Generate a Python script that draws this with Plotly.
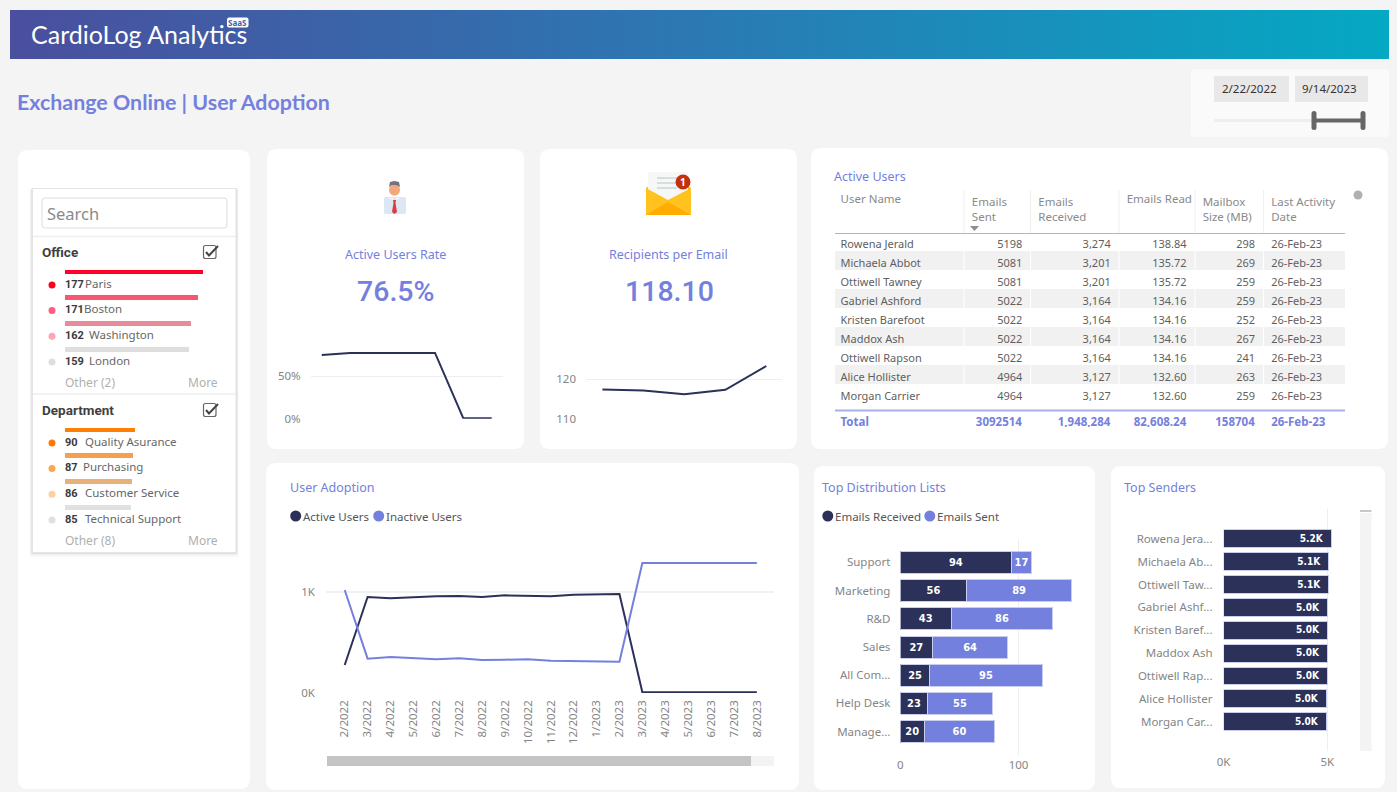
import plotly.graph_objects as go

W, H = 1397, 792
BLUE = "#7480dd"
NAVY = "#2b3158"
GRID = "#eeeeee"
TXT = "#6f6f6f"
FONT = "Noto Sans"
NARROW = "DejaVu Sans Condensed"
HEAD = "Roboto"
DIN = "Roboto Medium, Roboto"

# ---------- data ----------
office_names = ["Paris", "Boston", "Washington", "London"]
office_vals = [177, 171, 162, 159]
office_bar_col = ["#ff0028", "#f9566f", "#e88c9b", "#dedede"]
office_dot_col = ["#ff0022", "#ff5f7a", "#ffa4b4", "#dedede"]
dept_names = ["Quality Asurance", "Purchasing", "Customer Service", "Technical Support"]
dept_vals = [90, 87, 86, 85]
dept_bar_col = ["#ff7f00", "#f5a04f", "#e8b07a", "#e0e0e0"]
dept_dot_col = ["#ff7a00", "#ffa550", "#ffcfa0", "#e0e0e0"]

rate_vals = [75.2, 77.6, 77.6, 77.6, 77.6, 0.4, 0.4]
recip_vals = [117.4, 117.1, 116.2, 117.3, 123.25]

months = ["2/2022", "3/2022", "4/2022", "5/2022", "6/2022", "7/2022", "8/2022", "9/2022", "10/2022",
          "11/2022", "12/2022", "1/2023", "2/2023", "3/2023", "4/2023", "5/2023", "6/2023", "7/2023", "8/2023"]
active_users = [277, 950, 937, 950, 957, 960, 950, 967, 960, 957, 973, 977, 980, 7, 7, 7, 7, 7, 7]
inactive_users = [1020, 340, 356, 343, 333, 343, 327, 330, 333, 320, 317, 320, 310, 1287, 1287, 1287, 1287, 1287, 1287]

dl_names = ["Support", "Marketing", "R&D", "Sales", "All Com...", "Help Desk", "Manage..."]
dl_received = [94, 56, 43, 27, 25, 23, 20]
dl_sent = [17, 89, 86, 64, 95, 55, 60]

users = ["Rowena Jerald", "Michaela Abbot", "Ottiwell Tawney", "Gabriel Ashford", "Kristen Barefoot",
         "Maddox Ash", "Ottiwell Rapson", "Alice Hollister", "Morgan Carrier"]
sender_names = ["Rowena Jera...", "Michaela Ab...", "Ottiwell Taw...", "Gabriel Ashf...", "Kristen Baref...",
                "Maddox Ash", "Ottiwell Rap...", "Alice Hollister", "Morgan Car..."]
emails_sent = [5198, 5081, 5081, 5022, 5022, 5022, 5022, 4964, 4964]
emails_received = ["3,274", "3,201", "3,201", "3,164", "3,164", "3,164", "3,164", "3,127", "3,127"]
emails_read = ["138.84", "135.72", "135.72", "134.16", "134.16", "134.16", "134.16", "132.60", "132.60"]
mailbox = [298, 269, 259, 259, 252, 267, 241, 263, 259]
last_activity = ["26-Feb-23"] * 9
totals = ["Total", "3092514", "1,948,284", "82,608.24", "158704", "26-Feb-23"]
headers = ["User Name", "Emails<br>Sent", "Emails<br>Received", "Emails\u00a0Read", "Mailbox<br>Size\u00a0(MB)", "Last\u00a0Activity<br>Date"]


# ---------- pixel helpers ----------
def X(p):
    return p / W


def Y(p):
    return 1 - p / H


shapes, annots = [], []


def rrect(x0, y0, x1, y1, r=10, fill="white", line=None, lw=1, layer="below"):
    k = r
    d = (f"M{X(x0+k)},{Y(y0)} L{X(x1-k)},{Y(y0)} Q{X(x1)},{Y(y0)} {X(x1)},{Y(y0+k)} "
         f"L{X(x1)},{Y(y1-k)} Q{X(x1)},{Y(y1)} {X(x1-k)},{Y(y1)} "
         f"L{X(x0+k)},{Y(y1)} Q{X(x0)},{Y(y1)} {X(x0)},{Y(y1-k)} "
         f"L{X(x0)},{Y(y0+k)} Q{X(x0)},{Y(y0)} {X(x0+k)},{Y(y0)} Z")
    shapes.append(dict(type="path", xref="paper", yref="paper", path=d, fillcolor=fill, layer=layer,
                       line=dict(color=line or "rgba(0,0,0,0)", width=lw if line else 0)))


def poly(pts, fill=None, line=None, lw=1, layer="above"):
    d = "M" + " L".join(f"{X(a)},{Y(b)}" for a, b in pts)
    if fill:
        d += " Z"
    shapes.append(dict(type="path", xref="paper", yref="paper", path=d, layer=layer,
                       fillcolor=fill or "rgba(0,0,0,0)",
                       line=dict(color=line or "rgba(0,0,0,0)", width=lw if line else 0)))


def circle(cx, cy, r, fill, layer="above"):
    shapes.append(dict(type="circle", xref="paper", yref="paper", x0=X(cx - r), x1=X(cx + r), y0=Y(cy + r), y1=Y(cy - r),
                       fillcolor=fill, line=dict(width=0), layer=layer))


def text(x, y, s, size=12, color=TXT, anchor="left", family=FONT):
    annots.append(dict(xref="paper", yref="paper", x=X(x), y=Y(y), text=s, showarrow=False, xanchor=anchor,
                       yanchor="middle", align=anchor, font=dict(size=size, color=color, family=family),
                       borderpad=0, borderwidth=0))


# ---------- cards ----------
for box in [(18, 150, 250, 789), (267, 149, 524, 449), (540, 149, 797, 449), (811, 148, 1388, 449),
            (266, 463, 799, 790), (814, 466, 1095, 790), (1111, 466, 1385, 788)]:
    rrect(*box)
rrect(1191, 69, 1389, 137, r=3, fill="#fafafa")

fig = go.Figure()

# ---------- banner ----------
fig.add_trace(go.Scatter(x=[0, 1, 1, 0, 0], y=[0, 0, 1, 1, 0], mode="lines", fill="toself", line=dict(width=0),
                         fillgradient=dict(type="horizontal", colorscale=[[0, "#4a4f9e"], [0.5, "#2b79b3"], [1, "#04a9c4"]]),
                         xaxis="x", yaxis="y", hoverinfo="skip", showlegend=False))
text(31, 34, "CardioLog Analytics", 25, "white", family="Lato")
rrect(227, 17.5, 248.5, 27.5, r=2, fill="white", layer="above")
text(237.7, 22.8, "<b>SaaS</b>", 8, "#3f62a8", "center", "Noto Sans")
text(17, 102, "<b>Exchange Online | User Adoption</b>", 21.4, BLUE, family="Lato")

# ---------- date slicer ----------
rrect(1214, 76, 1289, 102, r=0, fill="#e8e8e8")
rrect(1295, 76, 1368, 102, r=0, fill="#e8e8e8")
text(1249, 89, "2/22/2022", 11.5, "#333", "center")
text(1329, 89, "9/14/2023", 11.5, "#333", "center")
rrect(1214, 119, 1314, 122, r=1, fill="#eeeeee")
rrect(1314, 118.5, 1363, 122.5, r=0, fill="#666666")
rrect(1311.5, 111, 1316.5, 130, r=2.5, fill="#666666")
rrect(1360.5, 111, 1365.5, 130, r=2.5, fill="#666666")

# ---------- filter panel ----------
for off, col in [(5, "rgba(0,0,0,0.02)"), (3, "rgba(0,0,0,0.04)"), (1.5, "rgba(0,0,0,0.07)")]:
    rrect(32 - off / 2, 188, 236.5 + off / 2, 552.5 + off, r=2, fill=col)
rrect(32.5, 188.5, 236, 552.5, r=1, fill="white", line="#e4e4e4")
rrect(42, 198, 227, 228, r=3, fill="white", line="#dddddd")
text(47, 213.5, "Search", 16.5, "#8a8a8a")
for yy in (236.5, 394):
    shapes.append(dict(type="line", xref="paper", yref="paper", x0=X(33), x1=X(236), y0=Y(yy), y1=Y(yy),
                       line=dict(color="#eeeeee", width=1.5), layer="below"))
for head, yy in (("Office", 252), ("Department", 410)):
    text(42, yy, f"<b>{head}</b>", 13.5, "#3f3f3f", family=HEAD)
    rrect(203.5, yy - 6.5, 216, yy + 6.5, r=2, fill="white", line="#666666", lw=1.2, layer="above")
    poly([(206, yy), (209, yy + 3.5), (218, yy - 6)], line="#444444", lw=2)

SL_X0 = 65
SL_K = 0.78
for xa, ya, names, vals, bcol, dcol, top, nameoffs, other in (
    ("x2", "y2", office_names, office_vals, office_bar_col, office_dot_col, 259.2, [85, 84, 89, 89], "Other (2)"),
    ("x3", "y3", dept_names, dept_vals, dept_bar_col, dept_dot_col, 417.2, [85, 83, 85, 85], "Other (8)"),
):
    idx = list(range(len(names)))
    fig.add_trace(go.Bar(y=idx, x=vals, orientation="h", width=0.19, marker=dict(color=bcol, line=dict(width=0)),
                         xaxis=xa, yaxis=ya, hoverinfo="skip", showlegend=False))
    fig.add_trace(go.Scatter(y=[i + 0.5 for i in idx], x=[(52 - SL_X0) / SL_K] * 4, mode="markers", cliponaxis=False,
                             marker=dict(size=7, color=dcol), xaxis=xa, yaxis=ya, hoverinfo="skip", showlegend=False))
    for i in idx:
        cy = top + 12.85 + 25.7 * (i + 0.47)
        text(SL_X0, cy, f"<b>{vals[i]}</b>", 11, "#3a3a3a", family=HEAD)
        text(nameoffs[i], cy - 1, names[i], 11.5, "#666666")
    text(SL_X0, top + 123, other, 12, "#b0b0b0")
    text(218, top + 123, "More", 12, "#b0b0b0", "right")

# ---------- icons ----------
rrect(384, 197, 406, 214, r=2, fill="#dce6f4", layer="above")
circle(394.5, 190, 5.5, "#f2a77c")
poly([(389, 187), (390, 182), (394.5, 181), (399, 182), (400, 187), (396, 185), (392, 185)], fill="#6f7480")
poly([(393, 200), (396, 200), (395.5, 203), (397, 212), (394.5, 214), (392, 212), (393.5, 203)], fill="#e03a3a")
poly([(388, 198), (393, 198), (393, 200)], fill="#f4f7fb")
poly([(401, 198), (396, 198), (396, 200)], fill="#f4f7fb")

poly([(646, 188), (668, 172), (691, 188), (691, 215), (646, 215)], fill="#fdb913")
rrect(648, 172, 688, 205, r=1, fill="#f6f8f8", layer="above")
for yy in (178, 183, 188):
    poly([(657, yy), (677, yy)], line="#b7c4c4", lw=1)
poly([(646, 188), (668, 200), (691, 188), (691, 215), (646, 215)], fill="#ffc21f")
poly([(646, 215), (668, 202), (691, 215)], fill="#ffab00")
circle(683, 182, 7.5, "#c4300c")
text(683, 182, "<b>1</b>", 10, "white", "center")

# ---------- KPI text ----------
text(395, 254.5, "Active Users Rate", 12.5, BLUE, "center")
text(668.5, 254.5, "Recipients per Email", 12.5, BLUE, "center")
text(395, 291, "76.5%", 28.5, BLUE, "center", DIN)
text(669, 291, "118.10", 28.5, BLUE, "center", DIN)

# ---------- card titles ----------
text(834, 176, "Active Users", 12.5, BLUE)
text(290, 487, "User Adoption", 12.5, BLUE)
text(822, 487, "Top Distribution Lists", 12.5, BLUE)
text(1124, 487, "Top Senders", 12.5, BLUE)

# ---------- sparklines ----------
fig.add_trace(go.Scatter(x=list(range(len(rate_vals))), y=rate_vals, mode="lines", name="Active Users Rate",
                         line=dict(color=NAVY, width=2), xaxis="x4", yaxis="y4", showlegend=False))
fig.add_trace(go.Scatter(x=list(range(len(recip_vals))), y=recip_vals, mode="lines", name="Recipients per Email",
                         line=dict(color=NAVY, width=2), xaxis="x5", yaxis="y5", showlegend=False))

# ---------- user adoption ----------
fig.add_trace(go.Scatter(x=months, y=active_users, mode="lines", name="Active Users",
                         line=dict(color=NAVY, width=2), xaxis="x6", yaxis="y6", showlegend=False))
fig.add_trace(go.Scatter(x=months, y=inactive_users, mode="lines", name="Inactive Users",
                         line=dict(color=BLUE, width=2), xaxis="x6", yaxis="y6", showlegend=False))
circle(295.7, 516, 5.5, NAVY)
text(303, 516.5, "Active Users", 11.5, "#555")
circle(378.7, 516, 5.5, BLUE)
text(386.5, 516.5, "Inactive Users", 11.5, "#555")
rrect(327, 756, 774, 766, r=0, fill="#f3f3f3")
rrect(327, 756, 751, 766, r=0, fill="#c4c4c4")

# ---------- distribution lists ----------
border = dict(color="#c9cdee", width=1)
lab_font = dict(color="white", size=11, family=NARROW)
fig.add_trace(go.Bar(y=dl_names, x=dl_received, orientation="h", name="Emails Received",
                     text=[f"<b>{v}</b>" for v in dl_received],
                     marker=dict(color=NAVY, line=border), textposition="inside", insidetextanchor="middle",
                     textangle=0, textfont=lab_font, xaxis="x7", yaxis="y7", showlegend=False))
fig.add_trace(go.Bar(y=dl_names, x=dl_sent, orientation="h", name="Emails Sent",
                     text=[f"<b>{v}</b>" for v in dl_sent],
                     marker=dict(color=BLUE, line=border), textposition="inside", insidetextanchor="middle",
                     textangle=0, textfont=lab_font, xaxis="x7", yaxis="y7", showlegend=False))
circle(827.8, 516, 5.5, NAVY)
text(835, 516.5, "Emails Received", 11.5, "#555")
circle(929.8, 516, 5.5, BLUE)
text(937, 516.5, "Emails Sent", 11.5, "#555")

# ---------- top senders ----------
fig.add_trace(go.Bar(y=sender_names, x=emails_sent, orientation="h", name="Emails Sent",
                     text=[f"<b>{v / 1000:.1f}K</b>&nbsp;&nbsp;" for v in emails_sent],
                     marker=dict(color=NAVY, line=border), textposition="inside", insidetextanchor="end",
                     textangle=0, textfont=lab_font, xaxis="x8", yaxis="y8", showlegend=False))
rrect(1360, 513, 1371.5, 751, r=0, fill="#f3f3f3")
rrect(1360, 510, 1371.5, 512, r=0, fill="#c8c8c8")

# ---------- table ----------
col_edges = [832.5, 964, 1030.5, 1119, 1195, 1263.6, 1345]
col_w = [col_edges[i + 1] - col_edges[i] for i in range(6)]
aligns = ["left", "right", "right", "right", "right", "left"]
n = len(users)
fig.add_trace(go.Table(
    domain=dict(x=[X(col_edges[0]), X(col_edges[-1])], y=[Y(408), Y(186)]),
    columnwidth=col_w,
    header=dict(values=headers, align="left", height=40, fill_color="white",
                line=dict(color="white", width=1), font=dict(size=11.5, color="#8a8a8a", family=FONT)),
    cells=dict(values=[users, emails_sent, emails_received, emails_read, mailbox, last_activity],
               align=aligns, height=19, line=dict(color="rgba(0,0,0,0)", width=0),
               fill_color=[["white" if i % 2 == 0 else "#f1f1f1" for i in range(n)]] * 6,
               font=dict(size=11, color="#5f5f5f", family=FONT)),
))
fig.add_trace(go.Table(
    domain=dict(x=[X(col_edges[0]), X(col_edges[-1])], y=[Y(427.5), Y(406)]),
    columnwidth=col_w,
    header=dict(values=[f"<b>{t}</b>" for t in totals], align=aligns, height=20, fill_color="white",
                line=dict(color="white", width=1), font=dict(size=11.5, color=BLUE, family=FONT)),
    cells=dict(values=[[] for _ in totals], height=1),
))
rrect(832, 186, 835, 408, r=0, fill="white", layer="above")
for yy, lw in ((233.5, 1), (410.5, 2)):
    shapes.append(dict(type="line", xref="paper", yref="paper", x0=X(835), x1=X(1345), y0=Y(yy), y1=Y(yy),
                       line=dict(color="#a9b0ea", width=lw), layer="above"))
for xx in col_edges[1:-1]:
    shapes.append(dict(type="line", xref="paper", yref="paper", x0=X(xx), x1=X(xx), y0=Y(190), y1=Y(233),
                       line=dict(color="#efefef", width=1), layer="above"))
    shapes.append(dict(type="line", xref="paper", yref="paper", x0=X(xx), x1=X(xx), y0=Y(234), y1=Y(406),
                       line=dict(color="white", width=1), layer="above"))
poly([(970, 226), (979, 226), (974.5, 231)], fill="#8f8f8f")
circle(1358, 195, 4.5, "#b0b0b0")


# ---------- axes ----------
def dom_x(a, b):
    return [X(a), X(b)]


def dom_y(top, bottom):
    return [Y(bottom), Y(top)]


hidden = dict(visible=False, fixedrange=True)
tick = dict(size=11.5, color="#858585", family=FONT)
layout_axes = dict(
    xaxis=dict(domain=dom_x(10, 1389), range=[0, 1], **hidden),
    yaxis=dict(domain=dom_y(10, 59), range=[0, 1], **hidden),
    xaxis2=dict(domain=dom_x(45, 210), range=[(45 - SL_X0) / SL_K, (210 - SL_X0) / SL_K], anchor="y2", **hidden),
    yaxis2=dict(domain=dom_y(259.2, 362), range=[3.5, -0.5], anchor="x2", **hidden),
    xaxis3=dict(domain=dom_x(45, 210), range=[(45 - SL_X0) / SL_K, (210 - SL_X0) / SL_K], anchor="y3", **hidden),
    yaxis3=dict(domain=dom_y(417.2, 520), range=[3.5, -0.5], anchor="x3", **hidden),
    xaxis4=dict(domain=dom_x(310.7, 502.7), range=[-0.39, 6.39], anchor="y4", **hidden),
    yaxis4=dict(domain=dom_y(345, 418.7), range=[0, 87], anchor="x4", tickvals=[0, 50], ticktext=["0%", "50%"],
                gridcolor=GRID, showline=False, zeroline=False, tickfont=tick, ticklabelstandoff=9, fixedrange=True),
    xaxis5=dict(domain=dom_x(586, 781.7), range=[-0.4, 4.375], anchor="y5", **hidden),
    yaxis5=dict(domain=dom_y(355, 419), range=[110, 126], anchor="x5", tickvals=[110, 120],
                gridcolor=GRID, showline=False, zeroline=False, tickfont=tick, ticklabelstandoff=9, fixedrange=True),
    xaxis6=dict(domain=dom_x(326, 774), range=[-0.817, 18.75], anchor="y6", type="category", tickangle=-90, showgrid=False,
                tickmode="array", tickvals=months, ticktext=months, tickfont=tick, ticklabelstandoff=4, fixedrange=True,
                showline=False, zeroline=False),
    yaxis6=dict(domain=dom_y(541, 693), range=[0, 1505], anchor="x6", tickvals=[0, 1000], ticktext=["0K", "1K"],
                gridcolor="#f1f1f1", gridwidth=1.5, zeroline=False, tickfont=tick, ticklabelstandoff=10, fixedrange=True),
    xaxis7=dict(domain=dom_x(900.4, 1088), range=[0, 158.8], anchor="y7", tickvals=[0, 100], gridcolor=GRID,
                zeroline=False, tickfont=tick, ticklabelstandoff=1, fixedrange=True),
    yaxis7=dict(domain=dom_y(539, 755), range=[6.83, -0.83], anchor="x7", type="category", tickfont=tick,
                categoryorder="array", categoryarray=dl_names, showgrid=False, zeroline=False,
                ticklabelstandoff=9, fixedrange=True),
    xaxis8=dict(domain=dom_x(1223.5, 1350), range=[0, 6094], anchor="y8", tickvals=[0, 5000], ticktext=["0K", "5K"],
                gridcolor=GRID, zeroline=False, tickfont=tick, ticklabelstandoff=2, fixedrange=True),
    yaxis8=dict(domain=dom_y(509, 751), range=[9.28, -1.3], anchor="x8", type="category", tickfont=tick,
                categoryorder="array", categoryarray=sender_names, showgrid=False, zeroline=False,
                ticklabelstandoff=10, fixedrange=True),
)

fig.update_layout(
    width=W, height=H, margin=dict(l=0, r=0, t=0, b=0, pad=0, autoexpand=False), autosize=False,
    paper_bgcolor="#f4f4f4", plot_bgcolor="rgba(0,0,0,0)",
    barmode="stack", bargap=0.22, showlegend=False,
    font=dict(family=FONT, color=TXT, size=12),
    shapes=shapes, annotations=annots, **layout_axes,
)

fig.write_html("out.html", config={"displayModeBar": False},
               post_script="document.body.style.margin='0';document.body.style.overflow='hidden';")
